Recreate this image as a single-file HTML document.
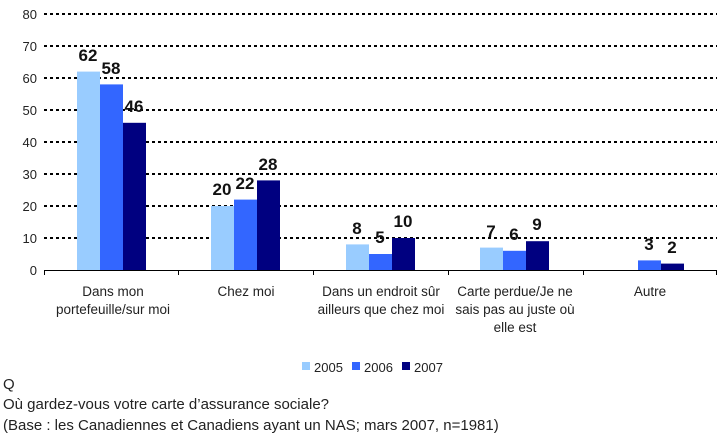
<!DOCTYPE html>
<html><head><style>
body{margin:0;background:#fff;}
svg text{font-family:"Liberation Sans",Arial,sans-serif;}
</style></head><body>
<svg width="725" height="439" xmlns="http://www.w3.org/2000/svg">
<g stroke="#000" stroke-width="2" stroke-dasharray="3,3">
<line x1="44" y1="14" x2="717" y2="14"/>
<line x1="44" y1="46" x2="717" y2="46"/>
<line x1="44" y1="78" x2="717" y2="78"/>
<line x1="44" y1="110" x2="717" y2="110"/>
<line x1="44" y1="142" x2="717" y2="142"/>
<line x1="44" y1="174" x2="717" y2="174"/>
<line x1="44" y1="206" x2="717" y2="206"/>
<line x1="44" y1="238" x2="717" y2="238"/>
</g>
<g font-size="13" fill="#222" text-anchor="end">
<text x="37" y="19">80</text><text x="37" y="51">70</text><text x="37" y="83">60</text>
<text x="37" y="115">50</text><text x="37" y="147">40</text><text x="37" y="179">30</text>
<text x="37" y="211">20</text><text x="37" y="243">10</text><text x="37" y="275">0</text>
</g>
<g>
<rect x="77" y="71.6" width="23" height="198.4" fill="#99ccff"/>
<rect x="100" y="84.4" width="23" height="185.6" fill="#3366ff"/>
<rect x="123" y="122.8" width="23" height="147.2" fill="#000080"/>
<rect x="211" y="206" width="23" height="64" fill="#99ccff"/>
<rect x="234" y="199.6" width="23" height="70.4" fill="#3366ff"/>
<rect x="257" y="180.4" width="23" height="89.6" fill="#000080"/>
<rect x="346" y="244.4" width="23" height="25.6" fill="#99ccff"/>
<rect x="369" y="254" width="23" height="16" fill="#3366ff"/>
<rect x="392" y="238" width="23" height="32" fill="#000080"/>
<rect x="480" y="247.6" width="23" height="22.4" fill="#99ccff"/>
<rect x="503" y="250.8" width="23" height="19.2" fill="#3366ff"/>
<rect x="526" y="241.2" width="23" height="28.8" fill="#000080"/>
<rect x="638" y="260.4" width="23" height="9.6" fill="#3366ff"/>
<rect x="661" y="263.6" width="23" height="6.4" fill="#000080"/>
</g>
<g font-size="17" font-weight="bold" fill="#111" text-anchor="middle">
<text x="88" y="61">62</text><text x="111" y="74">58</text><text x="134" y="112">46</text>
<text x="222" y="195">20</text><text x="245" y="189">22</text><text x="268" y="170">28</text>
<text x="357" y="234">8</text><text x="380" y="243">5</text><text x="403" y="227">10</text>
<text x="491" y="237">7</text><text x="514" y="240">6</text><text x="537" y="230">9</text>
<text x="649" y="250">3</text><text x="672" y="253">2</text>
</g>
<g stroke="#000" stroke-width="1">
<line x1="44" y1="270.5" x2="717" y2="270.5"/>
<line x1="44.5" y1="270" x2="44.5" y2="275"/>
<line x1="178.5" y1="270" x2="178.5" y2="275"/>
<line x1="313.5" y1="270" x2="313.5" y2="275"/>
<line x1="448.5" y1="270" x2="448.5" y2="275"/>
<line x1="583.5" y1="270" x2="583.5" y2="275"/>
<line x1="716.5" y1="270" x2="716.5" y2="275"/>
</g>
<g font-size="13.5" fill="#222" text-anchor="middle">
<text x="113" y="296">Dans mon</text><text x="113" y="314">portefeuille/sur moi</text>
<text x="246" y="296">Chez moi</text>
<text x="381" y="296">Dans un endroit sûr</text><text x="381" y="314">ailleurs que chez moi</text>
<text x="515" y="296">Carte perdue/Je ne</text><text x="515" y="314">sais pas au juste où</text><text x="515" y="332">elle est</text>
<text x="650" y="296">Autre</text>
</g>
<g font-size="13" fill="#222">
<rect x="302" y="362" width="8" height="8" fill="#99ccff"/><text x="314" y="372">2005</text>
<rect x="352" y="362" width="8" height="8" fill="#3366ff"/><text x="364" y="372">2006</text>
<rect x="402" y="362" width="8" height="8" fill="#000080"/><text x="414" y="372">2007</text>
</g>
<g font-size="15" fill="#222">
<text x="3" y="389">Q</text>
<text x="3" y="409">Où gardez-vous votre carte d’assurance sociale?</text>
<text x="3" y="430">(Base : les Canadiennes et Canadiens ayant un NAS; mars 2007, n=1981)</text>
</g>
</svg>
</body></html>
